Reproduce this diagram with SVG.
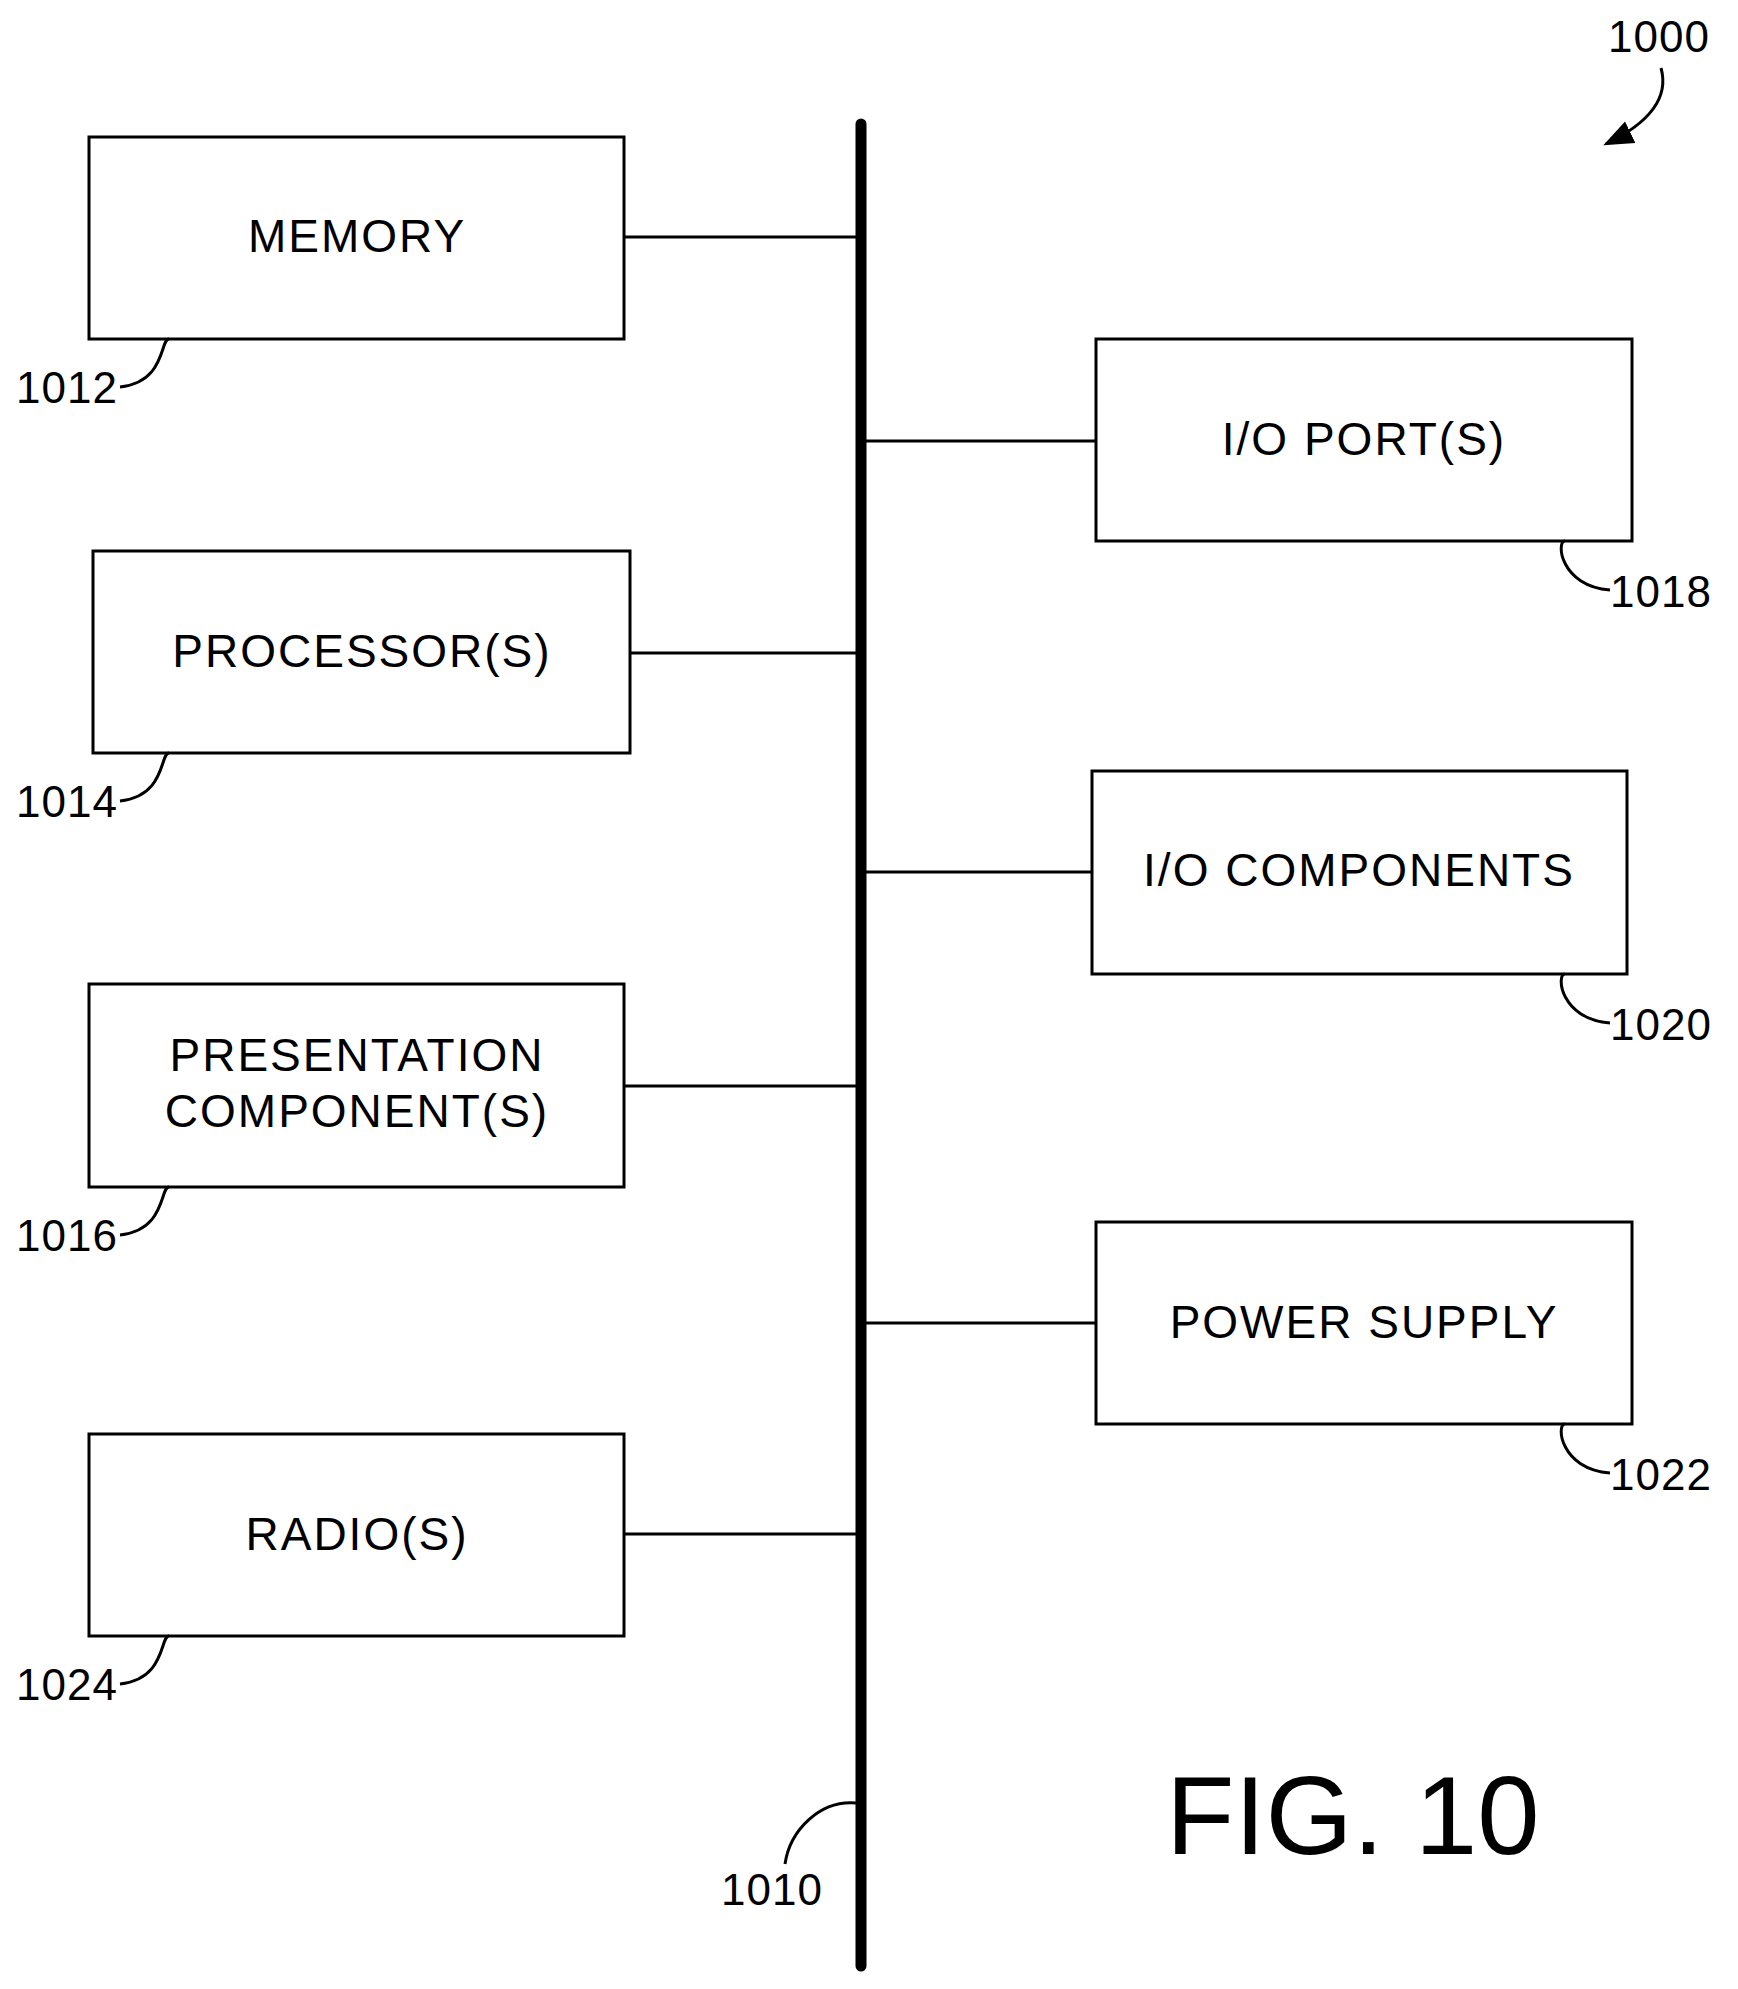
<svg xmlns="http://www.w3.org/2000/svg" width="1738" height="1989" viewBox="0 0 1738 1989">
<style>
.b{fill:#fff;stroke:#000;stroke-width:3}
.t{font-family:"Liberation Sans",Arial,sans-serif;font-size:46px;text-anchor:middle;letter-spacing:2px}
.r{font-family:"Liberation Sans",Arial,sans-serif;font-size:44px;letter-spacing:1px}
.l{fill:none;stroke:#000;stroke-width:3}
</style>
<defs><marker id="a" viewBox="0 0 10 10" refX="9" refY="5" markerWidth="30" markerHeight="30" orient="auto" markerUnits="userSpaceOnUse"><path d="M0,1L10,5L0,9z"/></marker></defs>
<rect width="1738" height="1989" fill="#fff"/>
<g id="connectors">
<line x1="861" y1="124" x2="861" y2="1966" stroke="#000" stroke-width="11" stroke-linecap="round"/>
<path class="l" d="M624,237H861M630,653H861M624,1086H861M624,1534H861M861,441H1096M861,872H1092M861,1323H1096"/>
</g>
<g id="memory"><rect class="b" x="89" y="137" width="535" height="202"/><text class="t" x="357" y="252">MEMORY</text>
<path class="l" d="M169,339C160,339 166,382 120,387"/><text class="r" x="16" y="403">1012</text></g>
<g id="processor"><rect class="b" x="93" y="551" width="537" height="202"/><text class="t" x="362" y="667">PROCESSOR(S)</text>
<path class="l" d="M169,753C160,753 166,796 120,801"/><text class="r" x="16" y="817">1014</text></g>
<g id="presentation"><rect class="b" x="89" y="984" width="535" height="203"/><text class="t" x="357" y="1071">PRESENTATION</text><text class="t" x="357" y="1127">COMPONENT(S)</text>
<path class="l" d="M169,1187C160,1187 166,1230 120,1235"/><text class="r" x="16" y="1251">1016</text></g>
<g id="radio"><rect class="b" x="89" y="1434" width="535" height="202"/><text class="t" x="357" y="1550">RADIO(S)</text>
<path class="l" d="M169,1636C160,1636 166,1679 120,1684"/><text class="r" x="16" y="1700">1024</text></g>
<g id="ioport"><rect class="b" x="1096" y="339" width="536" height="202"/><text class="t" x="1364" y="455">I/O PORT(S)</text>
<path class="l" d="M1565,541C1556,541 1560,586 1610,590"/><text class="r" x="1610" y="607">1018</text></g>
<g id="iocomp"><rect class="b" x="1092" y="771" width="535" height="203"/><text class="t" x="1359" y="886">I/O COMPONENTS</text>
<path class="l" d="M1565,974C1556,974 1560,1019 1610,1023"/><text class="r" x="1610" y="1040">1020</text></g>
<g id="power"><rect class="b" x="1096" y="1222" width="536" height="202"/><text class="t" x="1364" y="1338">POWER SUPPLY</text>
<path class="l" d="M1565,1424C1556,1424 1560,1469 1610,1473"/><text class="r" x="1610" y="1490">1022</text></g>
<g id="ref1000"><text class="r" x="1608" y="52">1000</text><path class="l" d="M1661,68C1670,100 1645,125 1606,144" marker-end="url(#a)"/></g>
<g id="ref1010"><path class="l" d="M856,1803C820,1800 790,1830 785,1864"/><text class="r" x="721" y="1905">1010</text></g>
<text x="1166" y="1854" style="font-family:'Liberation Sans',Arial,sans-serif;font-size:112px">FIG. 10</text>
</svg>
